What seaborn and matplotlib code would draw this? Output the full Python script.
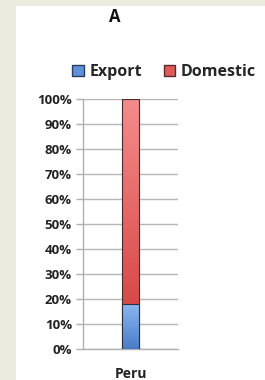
import numpy as np
import pandas as pd
import seaborn as sns
import matplotlib.pyplot as plt
from matplotlib.colors import LinearSegmentedColormap
from matplotlib.patches import Rectangle, Patch

# 데이터
countries = ["Peru"]
export_share = [18]
domestic_share = [82]
series_names = ["Export", "Domestic"]
yticks = [0, 10, 20, 30, 40, 50, 60, 70, 80, 90, 100]

blue = "#5f90da"
red = "#e05a5a"
blue_grad = ["#4a7cc8", "#8cb6f0"]   # 아래 -> 위
red_grad = ["#d23a3a", "#f58c8c"]

sns.set_theme(style="white")
plt.rcParams["font.family"] = ["Open Sans", "DejaVu Sans"]

fig = plt.figure(figsize=(2.65, 3.8), dpi=100)
fig.patch.set_facecolor("#ecebe0")
# 흰 패널
fig.patches.append(Rectangle((16 / 265, 0), 1, 1 - 6 / 380, transform=fig.transFigure,
                             facecolor="white", edgecolor="none", zorder=-10))

ax = fig.add_axes([83 / 265, 31 / 380, 95 / 265, 250 / 380])
ax.set_facecolor("none")

df = pd.DataFrame({
    "country": countries,
    "total": [e + d for e, d in zip(export_share, domestic_share)],
    "export": export_share,
})

sns.barplot(data=df, x="country", y="total", color=red, width=0.17,
            edgecolor="#4a2a2a", linewidth=0.8, saturation=1, ax=ax, zorder=3)
sns.barplot(data=df, x="country", y="export", color=blue, width=0.17,
            edgecolor="#2a3040", linewidth=0.8, saturation=1, ax=ax, zorder=4)

# 그라데이션 채우기
grads = [red_grad] * len(countries) + [blue_grad] * len(countries)
for bar, g in zip(ax.patches, grads):
    x0, y0 = bar.get_x(), bar.get_y()
    w, h = bar.get_width(), bar.get_height()
    cmap = LinearSegmentedColormap.from_list("g", g)
    img = ax.imshow(np.linspace(0, 1, 100).reshape(-1, 1), cmap=cmap, origin="lower",
                    extent=[x0, x0 + w, y0, y0 + h], aspect="auto",
                    zorder=bar.get_zorder() - 0.5)
    img.set_clip_path(bar)
    bar.set_facecolor("none")

ax.set_xlim(-0.5, 0.5)
ax.set_ylim(0, 100)
ax.set_yticks(yticks)
ax.set_yticklabels([f"{t}%" for t in yticks], fontsize=9.5, fontweight="bold", color="#222222")
ax.set_xticks([0])
ax.set_xticklabels(countries, fontsize=10, fontweight="bold", color="#222222")
ax.tick_params(axis="x", length=0, pad=13)
ax.tick_params(axis="y", length=5, width=1, color="#b0b0b0", pad=3, left=True)
ax.set_xlabel("")
ax.set_ylabel("")
ax.yaxis.grid(True, color="#b5b5b5", linewidth=1)
ax.set_axisbelow(True)
for s in ["top", "right"]:
    ax.spines[s].set_visible(False)
ax.spines["left"].set_color("#b0b0b0")
ax.spines["bottom"].set_color("#b0b0b0")
ax.spines["left"].set_linewidth(1)
ax.spines["bottom"].set_linewidth(1)

fig.text(115 / 265, 1 - 17 / 380, "A", fontsize=12, fontweight="bold",
         ha="center", va="center", color="#111111")

handles = [Patch(facecolor=blue, edgecolor="#2a3a5a", label=series_names[0]),
           Patch(facecolor=red, edgecolor="#5a2a2a", label=series_names[1])]
fig.legend(handles=handles, loc="center left", bbox_to_anchor=(58 / 265, 1 - 72 / 380),
           ncol=2, frameon=False, prop={"size": 11.5, "weight": "bold"},
           handlelength=0.7, handleheight=0.7, handletextpad=0.35, columnspacing=1.4)

fig.savefig("out.png", dpi=100)
